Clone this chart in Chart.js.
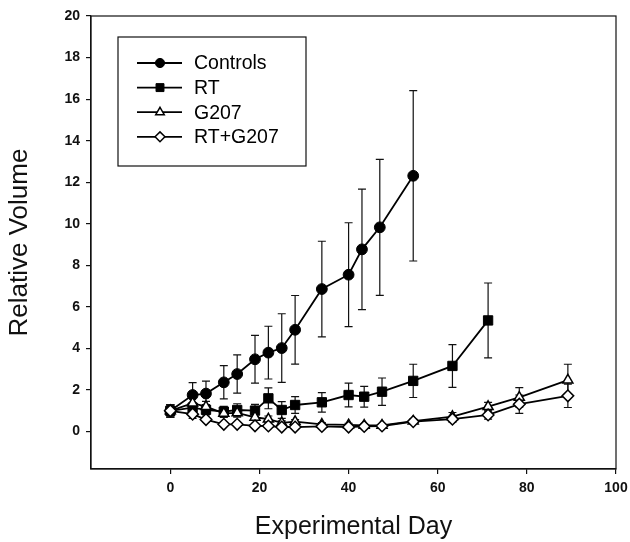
<!DOCTYPE html>
<html>
<head>
<meta charset="utf-8">
<script src="https://cdn.jsdelivr.net/npm/chart.js@4.4.0/dist/chart.umd.min.js"></script>
<style>
  html, body { margin: 0; padding: 0; background: #fff; }
  #wrap { width: 630px; height: 542px; }
</style>
</head>
<body>
<div id="wrap"><canvas id="chart" width="630" height="542"></canvas></div>
<script>
// tick labels
const xTicks = [0, 20, 40, 60, 80, 100];
const yTicks = [0, 2, 4, 6, 8, 10, 12, 14, 16, 18, 20];

// Controls
const controlsDays = [0, 5, 8, 12, 15, 19, 22, 25, 28, 34, 40, 43, 47, 54.5];
const controlsVals = [1.0, 1.76, 1.83, 2.37, 2.77, 3.48, 3.8, 4.02, 4.9, 6.86, 7.55, 8.77, 9.83, 12.31];
const controlsErr  = [0.3, 0.6, 0.6, 0.8, 0.92, 1.15, 1.27, 1.65, 1.65, 2.3, 2.5, 2.9, 3.27, 4.1];

// RT
const rtDays = [0, 5, 8, 12, 15, 19, 22, 25, 28, 34, 40, 43.5, 47.5, 54.5, 63.3, 71.3];
const rtVals = [1.0, 1.15, 1.05, 0.96, 1.04, 1.01, 1.6, 1.04, 1.28, 1.41, 1.76, 1.68, 1.92, 2.44, 3.16, 5.35];
const rtErr  = [0.3, 0.25, 0.25, 0.25, 0.3, 0.3, 0.5, 0.4, 0.4, 0.47, 0.57, 0.5, 0.66, 0.8, 1.03, 1.8];

// G207
const g207Days = [0, 5, 8, 12, 15, 19, 22, 25, 28, 34, 40, 43.5, 47.5, 54.5, 63.3, 71.3, 78.3, 89.2];
const g207Vals = [1.0, 1.37, 1.2, 0.88, 0.9, 0.69, 0.6, 0.42, 0.48, 0.35, 0.32, 0.3, 0.3, 0.5, 0.72, 1.2, 1.65, 2.48];
const g207Err  = [0.25, 0.3, 0.25, 0.2, 0.2, 0.15, 0.15, 0.1, 0.1, 0.08, 0.08, 0.05, 0.05, 0.1, 0.2, 0.21, 0.47, 0.76];

// RT+G207
const comboDays = [0, 5, 8, 12, 15, 19, 22, 25, 28, 34, 40, 43.5, 47.5, 54.5, 63.3, 71.3, 78.3, 89.2];
const comboVals = [1.0, 0.84, 0.58, 0.35, 0.35, 0.28, 0.27, 0.22, 0.22, 0.25, 0.22, 0.25, 0.27, 0.48, 0.6, 0.8, 1.32, 1.72];
const comboErr  = [0.3, 0.2, 0.1, 0.08, 0.08, 0.06, 0.06, 0.05, 0.05, 0.05, 0.05, 0.05, 0.05, 0.1, 0.15, 0.2, 0.44, 0.56];

const FONT = "'Liberation Sans', Arial, sans-serif";

function pts(days, vals) {
    return days.map((d, i) => ({ x: d, y: vals[i] }));
}

const seriesErr = [controlsErr, rtErr, g207Err, comboErr];

const frameAndErrors = {
    id: 'frameAndErrors',
    beforeDatasetsDraw(chart) {
        const ctx = chart.ctx;
        const a = chart.chartArea;
        const xs = chart.scales.x, ys = chart.scales.y;
        ctx.save();
        ctx.strokeStyle = '#111';
        ctx.lineWidth = 1.2;
        ctx.strokeRect(a.left, a.top, a.right - a.left, a.bottom - a.top);

        ctx.lineWidth = 1.2;
        chart.data.datasets.forEach((ds, i) => {
            const errs = seriesErr[i];
            ds.data.forEach((p, j) => {
                const e = errs[j];
                const px = xs.getPixelForValue(p.x);
                const top = ys.getPixelForValue(p.y + e);
                const bot = ys.getPixelForValue(p.y - e);
                ctx.beginPath();
                ctx.moveTo(px, top); ctx.lineTo(px, bot);
                ctx.moveTo(px - 4, top); ctx.lineTo(px + 4, top);
                ctx.moveTo(px - 4, bot); ctx.lineTo(px + 4, bot);
                ctx.stroke();
            });
        });
        ctx.restore();
    }
};

const boxLegend = {
    id: 'boxLegend',
    afterDraw(chart) {
        const ctx = chart.ctx;
        const a = chart.chartArea;
        const bx = a.left + 27, by = a.top + 21, bw = 188, bh = 129;
        ctx.save();
        ctx.strokeStyle = '#111';
        ctx.lineWidth = 1.2;
        ctx.fillStyle = '#fff';
        ctx.fillRect(bx, by, bw, bh);
        ctx.strokeRect(bx, by, bw, bh);
        const items = chart.data.datasets;
        items.forEach((ds, i) => {
            const y = by + 26 + i * 24.6;
            ctx.strokeStyle = '#000';
            ctx.lineWidth = 1.8;
            ctx.beginPath();
            ctx.moveTo(bx + 19, y); ctx.lineTo(bx + 64, y);
            ctx.stroke();
            ctx.fillStyle = ds.pointBackgroundColor;
            ctx.strokeStyle = '#000';
            ctx.lineWidth = ds.pointBorderWidth;
            Chart.helpers.drawPoint(ctx, {
                pointStyle: ds.pointStyle, radius: ds.pointRadius * 0.85,
                borderWidth: ds.pointBorderWidth, rotation: 0
            }, bx + 42, y);
            ctx.fillStyle = '#000';
            ctx.font = '19.5px ' + FONT;
            ctx.textBaseline = 'middle';
            ctx.fillText(ds.label, bx + 76, y + 1);
        });
        ctx.restore();
    }
};

new Chart(document.getElementById('chart'), {
    type: 'line',
    data: {
        datasets: [
            { label: 'Controls', data: pts(controlsDays, controlsVals), pointStyle: 'circle',
              pointRadius: 5.4, pointBackgroundColor: '#000', pointBorderWidth: 1, order: 3 },
            { label: 'RT', data: pts(rtDays, rtVals), pointStyle: 'rect',
              pointRadius: 6.6, pointBackgroundColor: '#000', pointBorderWidth: 1, order: 2 },
            { label: 'G207', data: pts(g207Days, g207Vals), pointStyle: 'triangle',
              pointRadius: 5.8, pointBackgroundColor: '#fff', pointBorderWidth: 1.5, order: 1 },
            { label: 'RT+G207', data: pts(comboDays, comboVals), pointStyle: 'rectRot',
              pointRadius: 5.8, pointBackgroundColor: '#fff', pointBorderWidth: 1.5, order: 0 }
        ].map(d => ({
            ...d,
            borderColor: '#000',
            borderWidth: 1.8,
            pointBorderColor: '#000',
            pointHoverRadius: d.pointRadius,
            tension: 0,
            fill: false
        }))
    },
    options: {
        responsive: false,
        animation: false,
        devicePixelRatio: 1,
        layout: { padding: { top: 16, right: 14, left: 0, bottom: 0 } },
        plugins: { legend: { display: false }, tooltip: { enabled: false } },
        scales: {
            x: {
                type: 'linear', min: -17.8, max: 100,
                afterBuildTicks: s => { s.ticks = xTicks.map(v => ({ value: v })); },
                afterFit: s => { s.height = 73; s.paddingLeft = 0; s.paddingRight = 0; },
                grid: { drawOnChartArea: false, drawTicks: true, tickLength: 5, color: '#111', lineWidth: 1.2 },
                border: { display: true, color: '#111', width: 1.2 },
                ticks: { color: '#111', font: { family: FONT, size: 14, weight: 'bold' }, padding: 6, maxRotation: 0 },
                title: { display: true, text: 'Experimental Day', color: '#111',
                         font: { family: FONT, size: 25 }, padding: { top: 0, bottom: 0 } }
            },
            y: {
                type: 'linear', min: -1.8, max: 20,
                afterBuildTicks: s => { s.ticks = yTicks.map(v => ({ value: v })); },
                afterFit: s => { s.width = 91; s.paddingTop = 0; s.paddingBottom = 0; },
                grid: { drawOnChartArea: false, drawTicks: true, tickLength: 5, color: '#111', lineWidth: 1.2 },
                border: { display: true, color: '#111', width: 1.2 },
                ticks: { color: '#111', font: { family: FONT, size: 14, weight: 'bold' }, padding: 6 },
                title: { display: true, text: 'Relative Volume', color: '#111',
                         font: { family: FONT, size: 26 }, padding: { top: 4, bottom: 0 } }
            }
        }
    },
    plugins: [frameAndErrors, boxLegend]
});
</script>
</body>
</html>
